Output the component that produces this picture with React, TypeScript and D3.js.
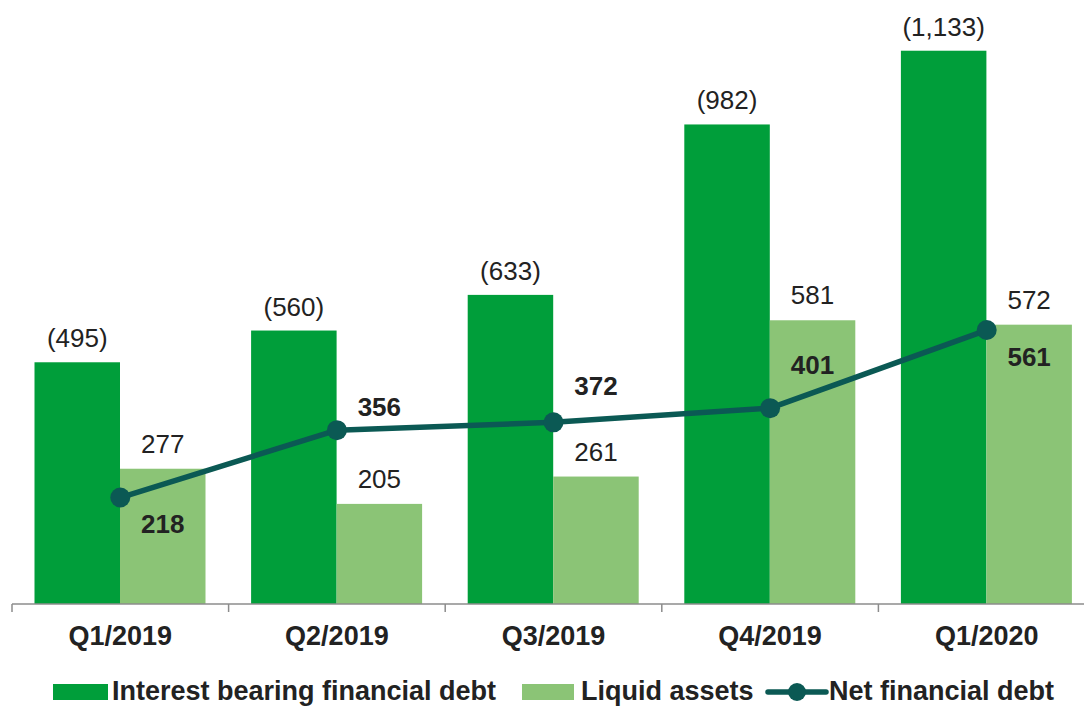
import React from 'react';
import * as d3 from 'd3';

// Chart data
const quarters = ['Q1/2019', 'Q2/2019', 'Q3/2019', 'Q4/2019', 'Q1/2020'];
const interestBearingDebt = [495, 560, 633, 982, 1133];
const liquidAssets = [277, 205, 261, 581, 572];
const netFinancialDebt = [218, 356, 372, 401, 561];

const W = 1084;
const H = 707;

const colors = {
  debt: '#009E3A',
  liquid: '#8BC476',
  net: '#0B5954',
  text: '#222222',
  axis: '#8C8C8C'
};

const font = 'Arial, "Liberation Sans", sans-serif';

// vertical offset of the net debt labels relative to their point
const netLabelDy = [35, -14, -27, -34, 36];

const App = () => {
  const baseY = 604;

  const x0 = d3.scaleBand<string>()
    .domain(quarters)
    .range([12, 1095])
    .padding(0);

  const x1 = d3.scaleBand<string>()
    .domain(['debt', 'liquid'])
    .range([22.5, 193.5])
    .padding(0);

  const y = d3.scaleLinear()
    .domain([0, 1200])
    .range([baseY, 18]);

  const cx = (q: string) => (x0(q) as number) + x0.bandwidth() / 2;

  const line = d3.line<number>()
    .x((_, i) => cx(quarters[i]))
    .y(d => y(d));

  const fmt = d3.format(',');

  const ticks = [...quarters.map(q => x0(q) as number), 12 + x0.step() * quarters.length];

  return (
    <div style={{ position: 'absolute', left: 0, top: 0 }}>
      <svg width={W} height={H} style={{ display: 'block', fontFamily: font }}>
        <rect width={W} height={H} fill="#fff" />

        {/* Bars */}
        {quarters.map((q, i) => {
          const bx = x0(q) as number;
          const dx = bx + (x1('debt') as number);
          const lx = bx + (x1('liquid') as number);
          const bw = x1.bandwidth();
          return (
            <g key={q}>
              <rect x={dx} y={y(interestBearingDebt[i])} width={bw}
                height={baseY - y(interestBearingDebt[i])} fill={colors.debt} />
              <rect x={lx} y={y(liquidAssets[i])} width={bw}
                height={baseY - y(liquidAssets[i])} fill={colors.liquid} />
              <text x={dx + bw / 2} y={y(interestBearingDebt[i]) - 15}
                textAnchor="middle" fontSize={26} fill={colors.text}>
                ({fmt(interestBearingDebt[i])})
              </text>
              <text x={lx + bw / 2} y={y(liquidAssets[i]) - 16}
                textAnchor="middle" fontSize={26} fill={colors.text}>
                {fmt(liquidAssets[i])}
              </text>
            </g>
          );
        })}

        {/* Axis */}
        <line x1={12} x2={1095} y1={baseY} y2={baseY} stroke={colors.axis} strokeWidth={1.5} />
        {ticks.map((t, i) => (
          <line key={i} x1={t} x2={t} y1={baseY} y2={baseY + 8} stroke={colors.axis} strokeWidth={1.5} />
        ))}
        {quarters.map(q => (
          <text key={q} x={cx(q)} y={645} textAnchor="middle" fontSize={27}
            fontWeight="bold" fill={colors.text}>{q}</text>
        ))}

        {/* Net financial debt line */}
        <path d={line(netFinancialDebt) || ''} fill="none" stroke={colors.net}
          strokeWidth={5.5} strokeLinejoin="round" />
        {netFinancialDebt.map((v, i) => (
          <circle key={i} cx={cx(quarters[i])} cy={y(v)} r={10} fill={colors.net} />
        ))}
        {netFinancialDebt.map((v, i) => {
          const lx = (x0(quarters[i]) as number) + (x1('liquid') as number) + x1.bandwidth() / 2;
          return (
            <text key={i} x={lx} y={y(v) + netLabelDy[i]} textAnchor="middle"
              fontSize={26} fontWeight="bold" fill={colors.text}>{fmt(v)}</text>
          );
        })}

        {/* Legend */}
        <g fontSize={27} fontWeight="bold" fill={colors.text}>
          <rect x={53} y={684} width={55} height={16} fill={colors.debt} />
          <text x={112} y={700}>Interest bearing financial debt</text>
          <rect x={522} y={684} width={52} height={16} fill={colors.liquid} />
          <text x={581} y={700}>Liquid assets</text>
          <line x1={768} x2={826} y1={692} y2={692} stroke={colors.net} strokeWidth={5.5} strokeLinecap="round" />
          <circle cx={797} cy={692} r={9} fill={colors.net} />
          <text x={829} y={700}>Net financial debt</text>
        </g>
      </svg>
    </div>
  );
};

export default App;
